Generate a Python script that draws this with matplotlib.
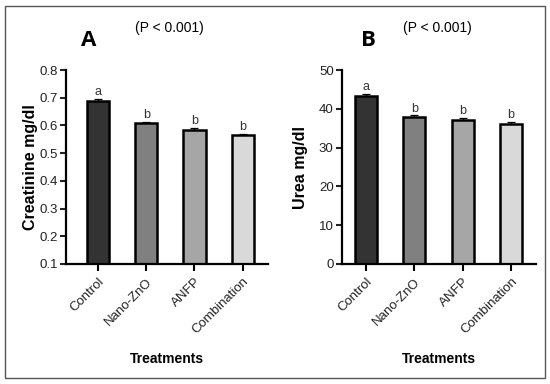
import matplotlib
matplotlib.use('Agg')
import matplotlib.pyplot as plt
from matplotlib.patches import Rectangle

plt.rcParams['font.family'] = ['Liberation Sans', 'DejaVu Sans']

# data
treatments = ['Control', 'Nano-ZnO', 'ANFP', 'Combination']
creatinine = [0.69, 0.61, 0.585, 0.565]
creatinine_err = [0.006, 0.004, 0.005, 0.004]
urea = [43.3, 37.8, 37.0, 36.0]
urea_err = [0.6, 0.5, 0.6, 0.6]
letters = ['a', 'b', 'b', 'b']
bar_colors = ['#333333', '#808080', '#a6a6a6', '#d9d9d9']


def draw_panel(ax, vals, errs, ylim, yticks, ylabel, xlim, off, label_x):
    x = range(len(vals))
    ax.bar(x, [v - ylim[0] for v in vals], bottom=ylim[0], width=0.46,
           color=bar_colors, edgecolor='black', linewidth=1.8, zorder=2)
    ax.errorbar(x, vals, yerr=errs, fmt='none', ecolor='black',
                elinewidth=0.9, capsize=3, capthick=0.9, zorder=1)
    for i, v in enumerate(vals):
        ax.text(i, v + errs[i] + off, letters[i], ha='center', va='bottom',
                fontsize=9, color='#333333')
    ax.set_ylim(*ylim)
    ax.set_yticks(yticks)
    ax.set_xlim(*xlim)
    ax.set_xticks(list(x))
    ax.set_xticklabels(treatments, rotation=45, ha='right',
                       rotation_mode='anchor', fontsize=9.5, color='#222222')
    ax.tick_params(axis='y', labelsize=9.5, colors='#222222', width=1.5, length=4,
                   pad=2)
    ax.tick_params(axis='x', width=1.5, length=5)
    for s in ['top', 'right']:
        ax.spines[s].set_visible(False)
    for s in ['left', 'bottom']:
        ax.spines[s].set_linewidth(1.6)
    ax.set_ylabel(ylabel, fontsize=11.5, fontweight='bold')
    # label position: right edge of the rotated label, in axes coords
    ax.yaxis.set_label_coords(label_x, 0.5)
    ax.set_xlabel('Treatments', fontsize=10, fontweight='bold', labelpad=11)


fig = plt.figure(figsize=(5.5, 3.84), dpi=100)
fig.patches.append(Rectangle((5 / 550, 6 / 384), 540 / 550, 372 / 384,
                             transform=fig.transFigure, fill=False,
                             edgecolor='#555555', linewidth=1.0))

axA = fig.add_axes([0.12, 0.3125, 0.367, 0.505])
draw_panel(axA, creatinine, creatinine_err, (0.1, 0.8),
           [0.1, 0.2, 0.3, 0.4, 0.5, 0.6, 0.7, 0.8], 'Creatinine mg/dl',
           (-0.66, 3.52), 0.003, -0.139)

axB = fig.add_axes([0.6218, 0.3125, 0.3527, 0.505])
draw_panel(axB, urea, urea_err, (0, 50), [0, 10, 20, 30, 40, 50],
           'Urea mg/dl', (-0.5, 3.52), 0.2, -0.175)

fig.text(89 / 550, 1 - 41 / 384, 'A', fontsize=16, fontweight='bold',
         ha='center', va='center', family=['Open Sans', 'DejaVu Sans'])
fig.text(169 / 550, 1 - 28 / 384, '(P < 0.001)', fontsize=10,
         ha='center', va='center')
fig.text(368 / 550, 1 - 41 / 384, 'B', fontsize=16, fontweight='bold',
         ha='center', va='center', family=['Open Sans', 'DejaVu Sans'])
fig.text(437 / 550, 1 - 28 / 384, '(P < 0.001)', fontsize=10,
         ha='center', va='center')

fig.savefig('out.png', dpi=100)
